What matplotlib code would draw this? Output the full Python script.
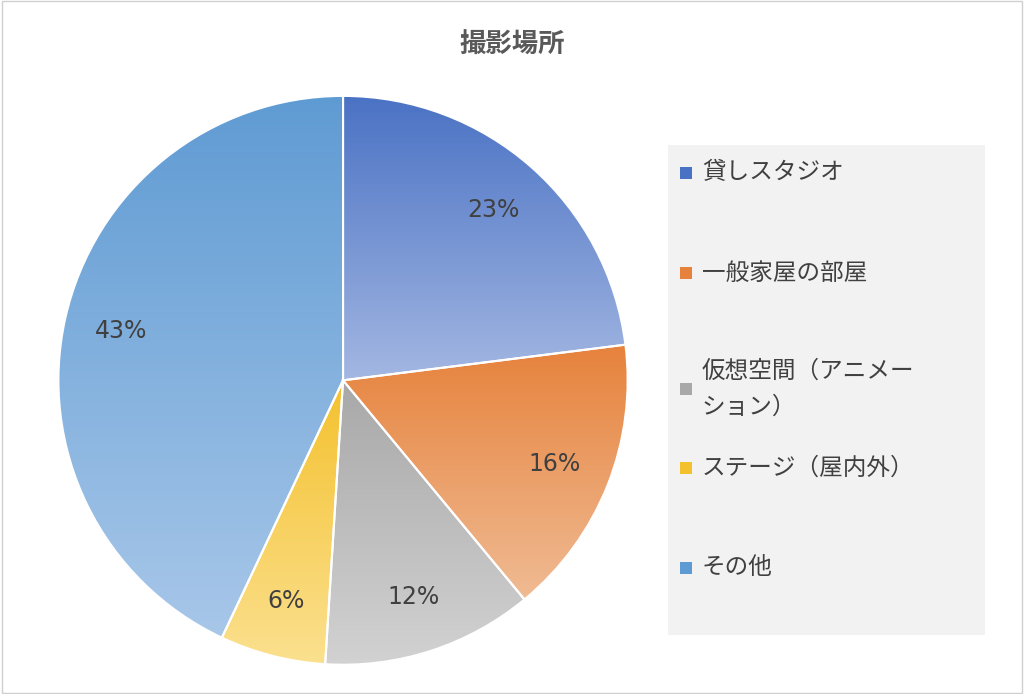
import matplotlib
matplotlib.use('Agg')
import matplotlib.pyplot as plt
import numpy as np
from matplotlib.colors import LinearSegmentedColormap
from matplotlib.patches import Rectangle

plt.rcParams['font.family'] = 'Noto Sans CJK JP'

# --- データ ---
LABELS = ['貸しスタジオ', '一般家屋の部屋', '仮想空間（アニメー\nション）', 'ステージ（屋内外）', 'その他']
VALUES = [23, 16, 12, 6, 43]
TOP_COLORS = ['#4a72c4', '#e6823c', '#a8a8a8', '#f4c12e', '#5f9bd3']
BOTTOM_COLORS = ['#a3b7e2', '#f0bb93', '#d2d2d2', '#fbe08f', '#a8c7e9']

fig = plt.figure(figsize=(10.24, 6.94), dpi=100)
fig.patches.append(Rectangle((0.002, 0.002), 0.996, 0.996, transform=fig.transFigure,
                             fill=False, edgecolor='#d0d0d0', lw=1))
fig.text(0.5, 0.935, '撮影場所', ha='center', va='center', fontsize=19,
         fontweight='bold', color='#595959')

ax = fig.add_axes([0.335 - 0.2835, 0.452 - 0.418, 0.567, 0.836])
wedges, _ = ax.pie(VALUES, startangle=90, counterclock=False, radius=1,
                   wedgeprops=dict(edgecolor='white', linewidth=1.5))
ax.axis('off')

# 각 조각에 세로 그라데이션 (위쪽 진하게)
grad = np.linspace(0, 1, 256).reshape(-1, 1)
for w, c0, c1 in zip(wedges, TOP_COLORS, BOTTOM_COLORS):
    ys = w.get_path().vertices[:, 1]
    xs = w.get_path().vertices[:, 0]
    cmap = LinearSegmentedColormap.from_list('g', [c0, c1])
    w.set_facecolor('none')
    im = ax.imshow(grad, cmap=cmap, extent=[xs.min(), xs.max(), ys.min(), ys.max()],
                   aspect='auto', zorder=w.get_zorder() - 0.1, origin='upper')
    im.set_clip_path(w)

ax.set_xlim(-1.02, 1.02)
ax.set_ylim(-1.02, 1.02)

# 퍼센트 라벨
total = sum(VALUES)
start = 90.0
for v in VALUES:
    mid = np.radians(start - 360 * v / total / 2)
    start -= 360 * v / total
    ax.text(0.8 * np.cos(mid), 0.8 * np.sin(mid), f'{v}%', ha='center', va='center',
            fontsize=17, color='#404040', family='DejaVu Sans', zorder=10)

# 범례
fig.patches.append(Rectangle((668 / 1024, 1 - 635 / 694), 317 / 1024, 490 / 694,
                             transform=fig.transFigure, facecolor='#f2f2f2',
                             edgecolor='none'))
legend_y = [173, 273, 389, 468, 568]
for lab, c0, y in zip(LABELS, TOP_COLORS, legend_y):
    fig.patches.append(Rectangle((680 / 1024, 1 - (y + 6) / 694), 12 / 1024, 12 / 694,
                                 transform=fig.transFigure, facecolor=c0, edgecolor='none'))
    fig.text(702 / 1024, 1 - y / 694, lab, ha='left', va='center', fontsize=17,
             color='#404040', linespacing=1.75)

fig.savefig('out.png', dpi=100)
